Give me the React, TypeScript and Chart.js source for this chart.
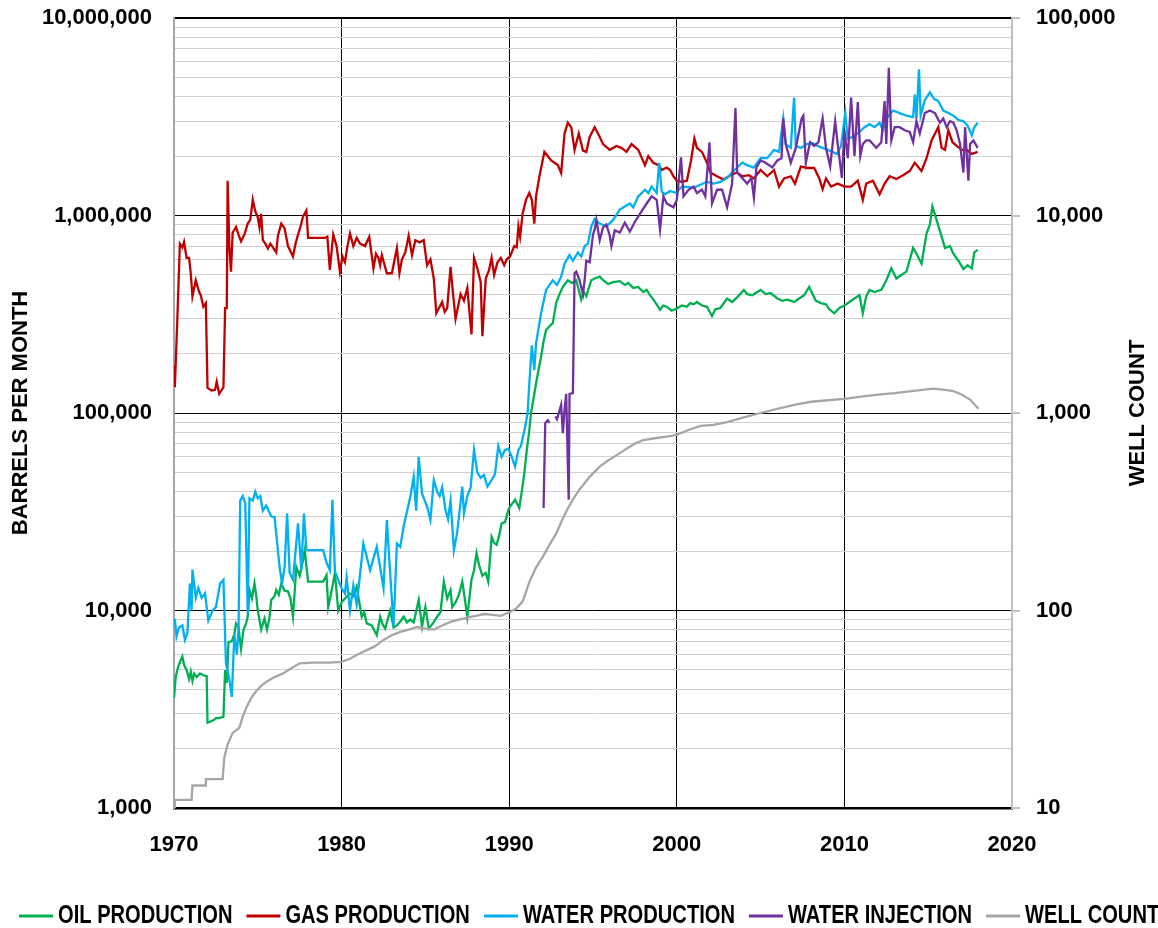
import React, { useEffect, useRef } from 'react';
import { Chart, registerables } from 'chart.js';

Chart.register(...registerables);

const FONT = "'Liberation Sans', Arial, sans-serif";

const LEFT_TICKS = [1000, 10000, 100000, 1000000, 10000000];
const RIGHT_TICKS = [10, 100, 1000, 10000, 100000];
const YEAR_TICKS = [1970, 1980, 1990, 2000, 2010, 2020];

const SERIES_LABELS = ['OIL PRODUCTION', 'GAS PRODUCTION', 'WATER PRODUCTION', 'WATER INJECTION', 'WELL COUNT'];
const SERIES_COLORS = ['#00b050', '#c00000', '#00b0f0', '#7030a0', '#a6a6a6'];

const OIL: [number, number][] = [
  [1970.0, 3600], [1970.1, 4600], [1970.25, 5200], [1970.4, 5600], [1970.5, 5850], [1970.6, 5300], [1970.75, 5000], [1970.9, 4500], [1971.0, 4900], [1971.1, 4400], [1971.2, 4800], [1971.35, 4600], [1971.55, 4800], [1971.75, 4700], [1971.95, 4650],
  [1972.0, 2700], [1972.2, 2750], [1972.4, 2800], [1972.5, 2850], [1972.7, 2850], [1972.95, 2900], [1973.05, 5000], [1973.15, 4300], [1973.25, 6900], [1973.45, 7000], [1973.6, 7600], [1973.7, 8600], [1973.85, 8200],
  [1974.0, 6400], [1974.15, 8000], [1974.3, 8600], [1974.4, 9300], [1974.5, 12700], [1974.65, 11500], [1974.8, 13700], [1974.9, 12000], [1975.0, 10000], [1975.2, 8000], [1975.4, 9100], [1975.55, 8000], [1975.7, 9200], [1975.8, 11300],
  [1976.0, 11800], [1976.1, 12700], [1976.25, 12000], [1976.4, 13700], [1976.6, 12600], [1976.8, 12500], [1976.95, 11500], [1977.1, 9300], [1977.3, 16600], [1977.5, 15000], [1977.7, 18000], [1977.8, 20200],
  [1978.0, 14000], [1978.5, 14000], [1978.9, 14000], [1979.1, 15100], [1979.2, 10400], [1979.4, 12500], [1979.6, 15500], [1979.8, 10000], [1979.9, 10500], [1980.0, 11000], [1980.2, 11500], [1980.5, 12200], [1980.7, 11800], [1980.9, 13200],
  [1981.2, 9300], [1981.35, 9800], [1981.5, 8600], [1981.8, 8400], [1982.1, 7500], [1982.3, 9300], [1982.45, 8500], [1982.6, 8100], [1982.9, 10000], [1983.1, 8200], [1983.3, 8400], [1983.5, 8800], [1983.7, 9300], [1983.9, 8700],
  [1984.1, 9000], [1984.3, 8700], [1984.6, 11300], [1984.8, 8300], [1985.0, 10400], [1985.2, 8100], [1985.45, 8600], [1985.7, 9300], [1985.9, 9800], [1986.1, 14000], [1986.3, 11500], [1986.5, 12700], [1986.6, 10400], [1986.8, 11000],
  [1987.0, 12000], [1987.2, 14000], [1987.35, 11500], [1987.5, 9300], [1987.75, 14300], [1987.9, 16000], [1988.05, 19500], [1988.2, 17000], [1988.4, 15000], [1988.6, 15500], [1988.75, 14000], [1988.95, 23600],
  [1989.1, 22000], [1989.25, 21500], [1989.4, 24000], [1989.55, 27600], [1989.75, 28000], [1989.95, 32300], [1990.05, 33600], [1990.35, 36400], [1990.6, 33000], [1990.75, 40000], [1990.9, 49500],
  [1991.05, 65000], [1991.2, 81600], [1991.3, 100000], [1991.45, 118000], [1991.6, 141000], [1991.75, 165000], [1991.9, 192000], [1992.05, 230000], [1992.2, 263000], [1992.4, 275000], [1992.6, 285000], [1992.8, 360000],
  [1993.0, 400000], [1993.2, 435000], [1993.5, 470000], [1993.75, 455000], [1994.0, 470000], [1994.15, 420000], [1994.3, 375000], [1994.45, 410000], [1994.6, 390000], [1994.75, 430000], [1994.9, 470000],
  [1995.1, 480000], [1995.4, 490000], [1995.6, 470000], [1995.9, 450000], [1996.2, 460000], [1996.6, 465000], [1996.9, 445000], [1997.1, 455000], [1997.4, 430000], [1997.7, 435000], [1998.0, 410000], [1998.2, 420000], [1998.4, 395000],
  [1998.6, 375000], [1998.8, 355000], [1999.0, 333000], [1999.2, 350000], [1999.4, 345000], [1999.7, 330000], [2000.0, 338000], [2000.3, 350000], [2000.6, 345000], [2000.8, 360000], [2001.0, 355000], [2001.2, 365000], [2001.5, 350000],
  [2001.8, 345000], [2002.1, 310000], [2002.3, 335000], [2002.6, 340000], [2003.0, 380000], [2003.3, 365000], [2003.6, 385000], [2004.0, 420000], [2004.2, 400000], [2004.5, 395000], [2004.8, 410000], [2005.0, 420000], [2005.3, 400000],
  [2005.6, 405000], [2006.0, 380000], [2006.3, 370000], [2006.6, 375000], [2007.0, 365000], [2007.3, 380000], [2007.6, 395000], [2007.9, 435000], [2008.1, 400000], [2008.3, 370000], [2008.6, 360000], [2008.9, 355000],
  [2009.1, 335000], [2009.4, 320000], [2009.7, 340000], [2010.0, 350000], [2010.3, 365000], [2010.6, 380000], [2010.9, 395000], [2011.1, 320000], [2011.3, 390000], [2011.5, 420000], [2011.8, 410000], [2012.2, 420000],
  [2012.5, 470000], [2012.8, 540000], [2013.1, 480000], [2013.4, 500000], [2013.7, 520000], [2014.1, 685000], [2014.3, 640000], [2014.6, 570000], [2014.9, 810000], [2015.1, 900000], [2015.25, 1110000], [2015.5, 950000],
  [2015.7, 835000], [2016.0, 685000], [2016.3, 700000], [2016.5, 640000], [2016.8, 590000], [2017.1, 535000], [2017.35, 560000], [2017.6, 540000], [2017.75, 650000], [2017.95, 670000],
];

const GAS: [number, number][] = [
  [1970.0, 175000], [1970.05, 135000], [1970.2, 300000], [1970.35, 720000], [1970.5, 690000], [1970.6, 735000], [1970.75, 610000], [1970.9, 610000], [1971.0, 510000], [1971.1, 390000], [1971.3, 470000], [1971.5, 410000],
  [1971.6, 395000], [1971.75, 345000], [1971.9, 360000], [1972.0, 134000], [1972.25, 130000], [1972.45, 131000], [1972.55, 144000], [1972.7, 125000], [1972.95, 135000], [1973.05, 340000], [1973.15, 340000], [1973.2, 1500000],
  [1973.3, 700000], [1973.4, 520000], [1973.5, 820000], [1973.7, 875000], [1973.85, 800000], [1974.0, 740000], [1974.2, 800000], [1974.4, 910000], [1974.55, 950000], [1974.7, 1200000], [1974.85, 1050000], [1975.0, 980000],
  [1975.1, 870000], [1975.2, 1020000], [1975.3, 750000], [1975.45, 720000], [1975.6, 680000], [1975.75, 720000], [1975.9, 690000], [1976.1, 650000], [1976.2, 790000], [1976.4, 910000], [1976.6, 860000], [1976.8, 700000],
  [1976.95, 660000], [1977.1, 620000], [1977.25, 720000], [1977.4, 800000], [1977.55, 880000], [1977.7, 990000], [1977.9, 1060000], [1978.0, 770000], [1978.5, 770000], [1979.0, 770000], [1979.15, 780000], [1979.3, 530000],
  [1979.5, 800000], [1979.7, 700000], [1979.9, 520000], [1980.05, 620000], [1980.2, 580000], [1980.35, 700000], [1980.5, 810000], [1980.7, 700000], [1980.9, 770000], [1981.1, 720000], [1981.4, 700000], [1981.65, 780000],
  [1981.9, 540000], [1982.05, 640000], [1982.2, 610000], [1982.3, 560000], [1982.4, 630000], [1982.7, 510000], [1983.0, 510000], [1983.3, 685000], [1983.45, 510000], [1983.6, 600000], [1983.8, 650000], [1984.0, 790000],
  [1984.2, 630000], [1984.4, 750000], [1984.65, 730000], [1984.9, 750000], [1985.1, 560000], [1985.3, 600000], [1985.5, 480000], [1985.65, 320000], [1985.85, 345000], [1986.0, 365000], [1986.15, 325000], [1986.3, 340000],
  [1986.5, 550000], [1986.65, 400000], [1986.8, 300000], [1987.1, 400000], [1987.3, 370000], [1987.5, 430000], [1987.75, 250000], [1987.9, 610000], [1988.1, 540000], [1988.3, 460000], [1988.4, 245000], [1988.6, 480000],
  [1988.8, 530000], [1988.95, 610000], [1989.1, 500000], [1989.3, 580000], [1989.5, 610000], [1989.7, 560000], [1989.85, 600000], [1990.05, 620000], [1990.3, 700000], [1990.45, 690000], [1990.55, 880000], [1990.65, 780000],
  [1990.8, 1020000], [1991.0, 1200000], [1991.2, 1300000], [1991.35, 1200000], [1991.5, 910000], [1991.6, 1250000], [1991.8, 1570000], [1992.1, 2100000], [1992.3, 2000000], [1992.5, 1900000], [1992.7, 1850000], [1992.9, 1800000],
  [1993.1, 1640000], [1993.3, 2600000], [1993.5, 2950000], [1993.7, 2800000], [1993.9, 2150000], [1994.15, 2600000], [1994.4, 2130000], [1994.6, 2100000], [1994.8, 2500000], [1995.1, 2800000], [1995.35, 2550000], [1995.6, 2300000],
  [1996.0, 2150000], [1996.4, 2250000], [1996.7, 2200000], [1997.0, 2100000], [1997.3, 2300000], [1997.7, 2150000], [1998.1, 1800000], [1998.3, 2000000], [1998.6, 1850000], [1998.9, 1800000], [1999.1, 1700000], [1999.4, 1750000],
  [1999.6, 1700000], [1999.8, 1580000], [2000.0, 1500000], [2000.3, 1480000], [2000.6, 1500000], [2000.85, 1900000], [2001.05, 2450000], [2001.2, 2200000], [2001.5, 2100000], [2001.8, 1850000], [2002.0, 1650000], [2002.4, 1580000],
  [2002.8, 1520000], [2003.2, 1600000], [2003.6, 1650000], [2003.9, 1580000], [2004.3, 1600000], [2004.6, 1540000], [2005.0, 1700000], [2005.4, 1580000], [2005.8, 1700000], [2006.1, 1400000], [2006.4, 1540000], [2006.8, 1580000],
  [2007.05, 1450000], [2007.4, 1770000], [2007.8, 1740000], [2008.2, 1740000], [2008.5, 1540000], [2008.7, 1360000], [2008.9, 1540000], [2009.2, 1400000], [2009.6, 1450000], [2010.0, 1400000], [2010.4, 1400000], [2010.8, 1500000],
  [2011.1, 1200000], [2011.3, 1450000], [2011.7, 1500000], [2012.1, 1280000], [2012.4, 1450000], [2012.7, 1580000], [2013.1, 1530000], [2013.5, 1600000], [2013.9, 1680000], [2014.2, 1850000], [2014.6, 1680000], [2014.9, 1950000],
  [2015.2, 2400000], [2015.6, 2800000], [2015.8, 2200000], [2016.0, 2150000], [2016.2, 2700000], [2016.45, 2350000], [2016.7, 2250000], [2017.0, 2150000], [2017.3, 2150000], [2017.6, 2050000], [2017.95, 2100000],
];

const WATER: [number, number][] = [
  [1970.0, 8500], [1970.05, 9100], [1970.15, 7400], [1970.3, 8200], [1970.5, 8400], [1970.65, 7100], [1970.8, 7700], [1970.95, 13700], [1971.05, 10000], [1971.1, 16100], [1971.3, 11600], [1971.45, 13000], [1971.65, 11600],
  [1971.85, 12200], [1972.05, 8900], [1972.3, 10000], [1972.5, 10400], [1972.75, 13700], [1972.95, 14300], [1973.1, 5400], [1973.3, 4500], [1973.45, 3650], [1973.6, 7600], [1973.75, 6000], [1973.85, 8000], [1973.95, 36000],
  [1974.1, 38000], [1974.25, 35000], [1974.4, 9700], [1974.5, 37000], [1974.7, 36000], [1974.85, 40000], [1975.0, 37000], [1975.15, 38000], [1975.3, 32000], [1975.5, 34000], [1975.8, 30000], [1976.0, 29700], [1976.3, 16600],
  [1976.45, 13700], [1976.6, 16600], [1976.75, 31000], [1976.9, 15500], [1977.1, 14300], [1977.4, 27600], [1977.6, 16000], [1977.75, 31000], [1977.9, 20200], [1978.4, 20200], [1978.9, 20200], [1979.1, 17500], [1979.3, 16000],
  [1979.45, 36400], [1979.6, 15800], [1979.8, 14300], [1980.0, 13000], [1980.2, 12200], [1980.3, 14700], [1980.5, 10000], [1980.7, 13400], [1980.9, 10700], [1981.3, 21800], [1981.7, 16000], [1982.1, 21000], [1982.5, 13000],
  [1982.7, 28700], [1983.0, 11300], [1983.1, 8300], [1983.3, 21800], [1983.5, 21000], [1983.7, 26600], [1984.1, 37700], [1984.3, 47500], [1984.45, 32000], [1984.6, 60000], [1984.8, 39000], [1985.1, 33600], [1985.3, 28700],
  [1985.5, 45800], [1985.7, 40000], [1985.85, 38000], [1986.0, 42000], [1986.2, 32300], [1986.35, 29000], [1986.5, 36000], [1986.7, 20200], [1986.9, 25000], [1987.2, 42400], [1987.3, 31000], [1987.5, 38000], [1987.7, 42000],
  [1987.9, 65000], [1988.1, 50000], [1988.3, 47000], [1988.5, 48500], [1988.7, 42400], [1988.9, 45000], [1989.15, 49000], [1989.35, 68000], [1989.55, 60000], [1989.75, 65000], [1989.95, 66000], [1990.15, 60000], [1990.35, 53500],
  [1990.55, 65000], [1990.7, 68000], [1990.95, 85000], [1991.1, 100000], [1991.2, 141000], [1991.35, 220000], [1991.5, 165000], [1991.6, 225000], [1991.9, 320000], [1992.2, 420000], [1992.6, 470000], [1992.85, 445000],
  [1993.1, 490000], [1993.3, 570000], [1993.6, 630000], [1993.8, 590000], [1994.1, 650000], [1994.3, 620000], [1994.5, 700000], [1994.7, 720000], [1994.9, 880000], [1995.1, 960000], [1995.4, 910000], [1995.8, 880000],
  [1996.2, 950000], [1996.6, 1070000], [1996.9, 1110000], [1997.2, 1150000], [1997.4, 1100000], [1997.7, 1250000], [1998.1, 1350000], [1998.3, 1300000], [1998.5, 1400000], [1998.8, 1300000], [1998.95, 1850000], [1999.1, 1320000],
  [1999.3, 1280000], [1999.6, 1330000], [2000.0, 1300000], [2000.2, 1380000], [2000.5, 1400000], [2001.0, 1380000], [2001.4, 1430000], [2001.8, 1480000], [2002.2, 1450000], [2002.6, 1480000], [2003.0, 1550000], [2003.3, 1650000],
  [2003.6, 1750000], [2003.9, 1850000], [2004.2, 1800000], [2004.6, 1750000], [2005.0, 1950000], [2005.4, 1950000], [2005.8, 2150000], [2006.1, 2100000], [2006.35, 3100000], [2006.5, 2300000], [2006.8, 2200000], [2007.0, 3950000],
  [2007.1, 2250000], [2007.4, 2200000], [2007.75, 2300000], [2008.1, 2330000], [2008.4, 2250000], [2008.7, 2200000], [2009.0, 2150000], [2009.3, 2100000], [2009.55, 2050000], [2009.8, 2250000], [2010.05, 3300000], [2010.2, 2450000],
  [2010.5, 2500000], [2010.9, 2650000], [2011.2, 2800000], [2011.5, 2900000], [2011.8, 2800000], [2012.1, 2950000], [2012.3, 2700000], [2012.5, 3100000], [2012.9, 3400000], [2013.3, 3300000], [2013.7, 3200000], [2014.1, 3150000],
  [2014.2, 4100000], [2014.3, 3100000], [2014.45, 5500000], [2014.55, 3200000], [2014.8, 3850000], [2015.1, 4200000], [2015.35, 3900000], [2015.6, 3800000], [2015.9, 3400000], [2016.2, 3300000], [2016.5, 3200000], [2016.8, 3050000],
  [2017.1, 3000000], [2017.35, 2850000], [2017.6, 2550000], [2017.75, 2800000], [2017.95, 2950000],
];

const INJECTION: [number, number | null][] = [
  [1992.05, 33000], [1992.15, 88900], [1992.3, 92000], [1992.4, 89000], [1992.55, null], [1992.75, 96000], [1992.85, 93000], [1993.0, 103000], [1993.1, 110000], [1993.2, 79000], [1993.3, 103000], [1993.4, 125000],
  [1993.55, 36400], [1993.6, 125000], [1993.8, 126000], [1993.9, 510000], [1994.0, 520000], [1994.2, 470000], [1994.4, 400000], [1994.5, 470000], [1994.6, 590000], [1994.8, 580000], [1995.0, 800000], [1995.1, 850000],
  [1995.2, 950000], [1995.4, 750000], [1995.6, 870000], [1995.8, 900000], [1996.0, 790000], [1996.1, 700000], [1996.3, 840000], [1996.6, 820000], [1996.9, 920000], [1997.2, 830000], [1997.5, 930000], [1997.8, 1020000],
  [1998.2, 1150000], [1998.5, 1250000], [1998.8, 1200000], [1999.0, 850000], [1999.2, 1250000], [1999.4, 1150000], [1999.8, 1100000], [2000.0, 1200000], [2000.25, 1970000], [2000.4, 1250000], [2000.7, 1350000], [2001.0, 1400000],
  [2001.2, 1300000], [2001.5, 1350000], [2001.7, 1250000], [2001.95, 2350000], [2002.1, 1150000], [2002.4, 1350000], [2002.7, 1350000], [2003.0, 1100000], [2003.3, 1450000], [2003.5, 3500000], [2003.6, 1650000], [2003.9, 1550000],
  [2004.2, 1450000], [2004.45, 1550000], [2004.6, 1230000], [2004.75, 1750000], [2005.0, 1900000], [2005.3, 1850000], [2005.7, 1750000], [2006.0, 1900000], [2006.25, 1950000], [2006.35, 3100000], [2006.5, 2300000], [2006.8, 1850000],
  [2007.1, 2200000], [2007.45, 3100000], [2007.55, 3200000], [2007.7, 1850000], [2007.95, 2350000], [2008.2, 2250000], [2008.45, 2350000], [2008.7, 3100000], [2008.9, 2200000], [2009.15, 1770000], [2009.45, 3000000], [2009.6, 2300000],
  [2009.85, 1550000], [2010.0, 2700000], [2010.2, 1950000], [2010.4, 3950000], [2010.6, 2000000], [2010.8, 3750000], [2010.95, 2000000], [2011.1, 2300000], [2011.3, 2400000], [2011.5, 2400000], [2011.7, 2300000], [2011.9, 2200000],
  [2012.2, 2350000], [2012.4, 3800000], [2012.5, 2300000], [2012.65, 5600000], [2012.8, 2400000], [2013.0, 2800000], [2013.3, 2800000], [2013.6, 2700000], [2013.9, 2650000], [2014.1, 2350000], [2014.3, 3000000], [2014.5, 2600000],
  [2014.8, 3300000], [2015.1, 3400000], [2015.4, 3300000], [2015.7, 2950000], [2015.9, 3100000], [2016.1, 2800000], [2016.3, 3000000], [2016.5, 2950000], [2016.7, 2700000], [2016.9, 2300000], [2017.1, 1650000], [2017.2, 2800000],
  [2017.4, 1500000], [2017.5, 2300000], [2017.7, 2400000], [2017.95, 2200000],
];

const WELLS: [number, number][] = [
  [1970.0, 10], [1970.05, 11], [1971.05, 11], [1971.1, 13], [1971.85, 13], [1971.9, 14], [1972.9, 14], [1973.0, 18], [1973.2, 21], [1973.5, 24], [1973.9, 25.5], [1974.1, 29], [1974.3, 32], [1974.6, 36], [1974.9, 39],
  [1975.2, 41.5], [1975.5, 43.5], [1976.0, 46], [1976.5, 48], [1977.0, 51], [1977.5, 54], [1978.3, 54.5], [1979.3, 54.5], [1980.0, 55], [1980.5, 57], [1980.9, 59.5], [1981.5, 63], [1982.0, 66], [1982.5, 71], [1983.0, 75],
  [1983.5, 78], [1984.0, 80], [1984.5, 82.5], [1985.0, 81], [1985.5, 80], [1986.0, 84], [1986.5, 87.5], [1987.0, 90], [1987.5, 92], [1988.0, 94], [1988.5, 96], [1989.0, 95], [1989.5, 94], [1990.0, 98], [1990.4, 102],
  [1990.8, 111], [1991.2, 139], [1991.6, 165], [1992.0, 187], [1992.4, 215], [1992.8, 245], [1993.1, 280], [1993.4, 317], [1993.8, 365], [1994.2, 410], [1994.8, 475], [1995.4, 535], [1995.9, 575], [1996.4, 610],
  [1997.0, 660], [1997.5, 700], [1998.0, 730], [1998.7, 745], [1999.4, 760], [2000.0, 775], [2000.7, 820], [2001.4, 860], [2002.2, 870], [2003.0, 900], [2004.0, 950], [2005.0, 1000], [2006.0, 1050], [2007.0, 1100],
  [2008.0, 1140], [2009.0, 1160], [2010.0, 1180], [2011.0, 1210], [2012.0, 1240], [2013.0, 1260], [2014.0, 1290], [2015.3, 1330], [2016.0, 1310], [2016.5, 1290], [2017.0, 1240], [2017.5, 1170], [2018.0, 1050],
];

const SERIES = [OIL, GAS, WATER, INJECTION, WELLS];

function minorLines(decades: number[]): number[] {
  const out: number[] = [];
  decades.forEach((d, i) => {
    if (i === decades.length - 1) { out.push(d); return; }
    for (let k = 1; k <= 9; k++) out.push(d * k);
  });
  return out;
}

const legendPlugin = {
  id: 'customLegend',
  afterDraw(chart: any) {
    const ctx = chart.ctx as CanvasRenderingContext2D;
    ctx.save();
    ctx.font = `bold 25px ${FONT}`;
    ctx.textBaseline = 'middle';
    const squeeze = 0.805;
    const y = 916;
    const lineLen = 34;
    const gap = 5;
    const spacing = 14;
    let x = 19;
    chart.data.datasets.forEach((ds: any) => {
      ctx.strokeStyle = ds.borderColor;
      ctx.lineWidth = 3;
      ctx.beginPath();
      ctx.moveTo(x, y);
      ctx.lineTo(x + lineLen, y);
      ctx.stroke();
      x += lineLen + gap;
      ctx.save();
      ctx.translate(x, y);
      ctx.scale(squeeze, 1);
      ctx.fillStyle = '#000';
      ctx.fillText(ds.label, 0, 0);
      ctx.restore();
      x += ctx.measureText(ds.label).width * squeeze + spacing;
    });
    // right axis title, reading bottom-to-top
    ctx.font = `bold 22px ${FONT}`;
    ctx.textAlign = 'center';
    ctx.fillStyle = '#000';
    ctx.translate(1138, 413);
    ctx.rotate(-Math.PI / 2);
    ctx.fillText('WELL COUNT', 0, 0);
    ctx.restore();
  },
};

export default function App() {
  const ref = useRef<HTMLCanvasElement>(null);
  useEffect(() => {
    document.body.style.margin = '0';
    const leftGrid = minorLines(LEFT_TICKS);
    const tickFont = { family: FONT, size: 22, weight: 'bold' as const };
    const datasets = SERIES.map((s, i) => ({
      label: SERIES_LABELS[i],
      data: s.map(([x, y]) => ({ x, y })),
      borderColor: SERIES_COLORS[i],
      backgroundColor: SERIES_COLORS[i],
      borderWidth: 2.3,
      pointRadius: 0,
      tension: 0,
      spanGaps: false,
      yAxisID: i === 4 ? 'y2' : 'y',
      order: 5 - i,
    }));
    const chart = new Chart(ref.current!, {
      type: 'line',
      data: { datasets: datasets as any },
      plugins: [legendPlugin],
      options: {
        animation: false,
        responsive: false,
        devicePixelRatio: 1,
        layout: { padding: { top: 18, left: 0, right: 0, bottom: 70 } },
        plugins: { legend: { display: false }, tooltip: { enabled: false } },
        scales: {
          x: {
            type: 'linear',
            min: YEAR_TICKS[0],
            max: YEAR_TICKS[YEAR_TICKS.length - 1],
            afterBuildTicks: (s: any) => { s.ticks = YEAR_TICKS.map((v) => ({ value: v })); },
            afterFit: (s: any) => { s.height = 50; s.paddingLeft = 0; s.paddingRight = 0; },
            ticks: { font: tickFont, color: '#000', padding: 24, maxRotation: 0, autoSkip: false, callback: (v: any) => String(v) },
            grid: {
              drawTicks: false,
              color: (c: any) => (c.tick && (c.tick.value === YEAR_TICKS[0] || c.tick.value === YEAR_TICKS[YEAR_TICKS.length - 1]) ? 'rgba(0,0,0,0)' : '#000'),
              lineWidth: 1,
            },
            border: { color: '#000', width: 2.5 },
          },
          y: {
            type: 'logarithmic',
            position: 'left',
            min: LEFT_TICKS[0],
            max: LEFT_TICKS[LEFT_TICKS.length - 1],
            afterBuildTicks: (s: any) => { s.ticks = leftGrid.map((v) => ({ value: v })); },
            afterFit: (s: any) => { s.width = 174; s.paddingTop = 0; s.paddingBottom = 0; },
            ticks: {
              font: tickFont, color: '#000', padding: 22, autoSkip: false,
              callback: (v: any) => (LEFT_TICKS.includes(Number(v)) ? Number(v).toLocaleString('en-US') : ''),
            },
            grid: {
              drawTicks: false,
              color: (c: any) => {
                const v = c.tick ? c.tick.value : 0;
                if (v === LEFT_TICKS[0]) return 'rgba(0,0,0,0)';
                return LEFT_TICKS.includes(v) ? '#000' : '#d0d0d0';
              },
              lineWidth: (c: any) => (c.tick && c.tick.value === LEFT_TICKS[LEFT_TICKS.length - 1] ? 2 : 1),
            },
            border: { color: '#a6a6a6', width: 2 },
            title: { display: true, text: 'BARRELS PER MONTH', color: '#000', font: { family: FONT, size: 22, weight: 'bold' }, padding: { top: 8, bottom: 0 } },
          },
          y2: {
            type: 'logarithmic',
            position: 'right',
            min: RIGHT_TICKS[0],
            max: RIGHT_TICKS[RIGHT_TICKS.length - 1],
            afterBuildTicks: (s: any) => { s.ticks = RIGHT_TICKS.map((v) => ({ value: v })); },
            afterFit: (s: any) => { s.width = 146; s.paddingTop = 0; s.paddingBottom = 0; },
            ticks: {
              font: tickFont, color: '#000', padding: 16, autoSkip: false,
              callback: (v: any) => Number(v).toLocaleString('en-US'),
            },
            grid: { drawOnChartArea: false, drawTicks: true, tickLength: 8, color: '#bfbfbf', tickColor: '#bfbfbf', lineWidth: 2 },
            border: { color: '#bfbfbf', width: 2 },
          },
        },
      },
    });
    return () => chart.destroy();
  }, []);
  return (
    <div style={{ position: 'relative', width: 1158, height: 928, background: '#fff' }}>
      <canvas ref={ref} width={1158} height={928} style={{ display: 'block', width: 1158, height: 928 }} />
    </div>
  );
}
